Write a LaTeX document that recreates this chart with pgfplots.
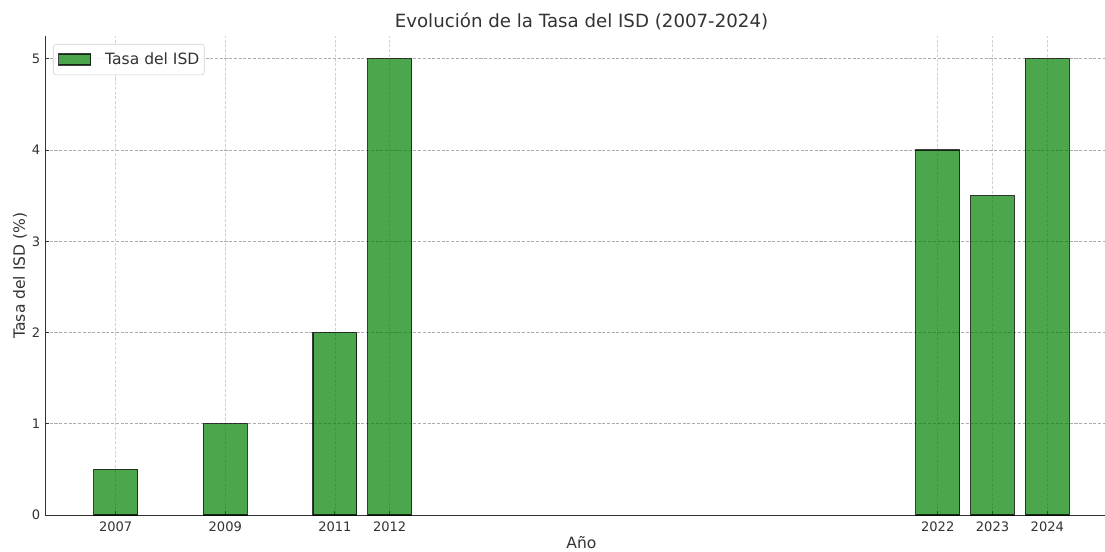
\documentclass[border=0pt]{standalone}
\usepackage{fontspec}
\setmainfont{DejaVu Sans}
\usepackage{pgfplots}
\pgfplotsset{compat=1.18}
\definecolor{txt}{HTML}{333333}
\definecolor{barg}{RGB}{0,128,0}
\begin{document}
\begin{tikzpicture}
\begin{axis}[
  scale only axis,
  width=772.56pt, height=344.88pt,
  xmin=2005.71, xmax=2025.29,
  ymin=0, ymax=5.25,
  axis x line*=bottom, axis y line*=left,
  axis line style={-, draw=txt, line width=0.6pt},
  xtick={2007,2009,2011,2012,2022,2023,2024},
  ytick={0,1,2,3,4,5},
  tick align=inside,
  major tick length=3pt,
  tick style={draw=txt, line width=0.6pt},
  /pgf/number format/assume math mode=true,
  /pgf/number format/1000 sep={},
  ticklabel style={font=\fontsize{9.4}{11}\selectfont, text=txt},
  xticklabel style={yshift=-1.4pt},
  xmajorgrids, ymajorgrids,
  x grid style={dash pattern=on 2.2pt off 1.2pt, gray!35, line width=0.5pt},
  y grid style={dash pattern=on 2.2pt off 1.2pt, gray!65, line width=0.5pt},
  xlabel={Año},
  ylabel={Tasa del ISD (\%)},
  xlabel style={at={(axis description cs:0.5,-0.0689)}, anchor=base, font=\fontsize{11.2}{13}\selectfont, text=txt},
  ylabel style={at={(axis description cs:-0.01864,0.5)}, anchor=base, font=\fontsize{11.2}{13}\selectfont, text=txt},
  title={Evolución de la Tasa del ISD (2007-2024)},
  title style={at={(axis description cs:0.5,1)}, anchor=base, yshift=0pt, font=\fontsize{13.1}{15}\selectfont, text=txt},
  legend style={at={(axis description cs:0,1)}, anchor=north west, xshift=5.76pt, yshift=-5.76pt,
    draw=gray!35, rounded corners=2pt, fill=white, fill opacity=0.8, text opacity=1, draw opacity=1,
    font=\fontsize{11.2}{13}\selectfont, text=txt, inner xsep=1.5pt, inner ysep=4pt,
    cells={anchor=west}},
  legend image code/.code={\draw[#1, sharp corners] (2pt,-4pt) rectangle (25pt,4pt); \path (0pt,0pt) (33pt,0pt);},
]
\addplot[ybar, bar width=0.8, fill=barg, fill opacity=0.7, draw=black, draw opacity=0.75, line width=0.9pt]
  coordinates {(2007,0.5) (2009,1) (2011,2) (2012,5) (2022,4) (2023,3.5) (2024,5)};
\addlegendentry{Tasa del ISD}
\coordinate (sw) at (rel axis cs:0,0);
\coordinate (ne) at (rel axis cs:1,1);
\end{axis}
\pgfresetboundingbox
\path[use as bounding box] ([shift={(-32.4pt,-25.92pt)}]sw) rectangle ([shift={(-9.36pt,25.92pt)}]ne);
\end{tikzpicture}
\end{document}
